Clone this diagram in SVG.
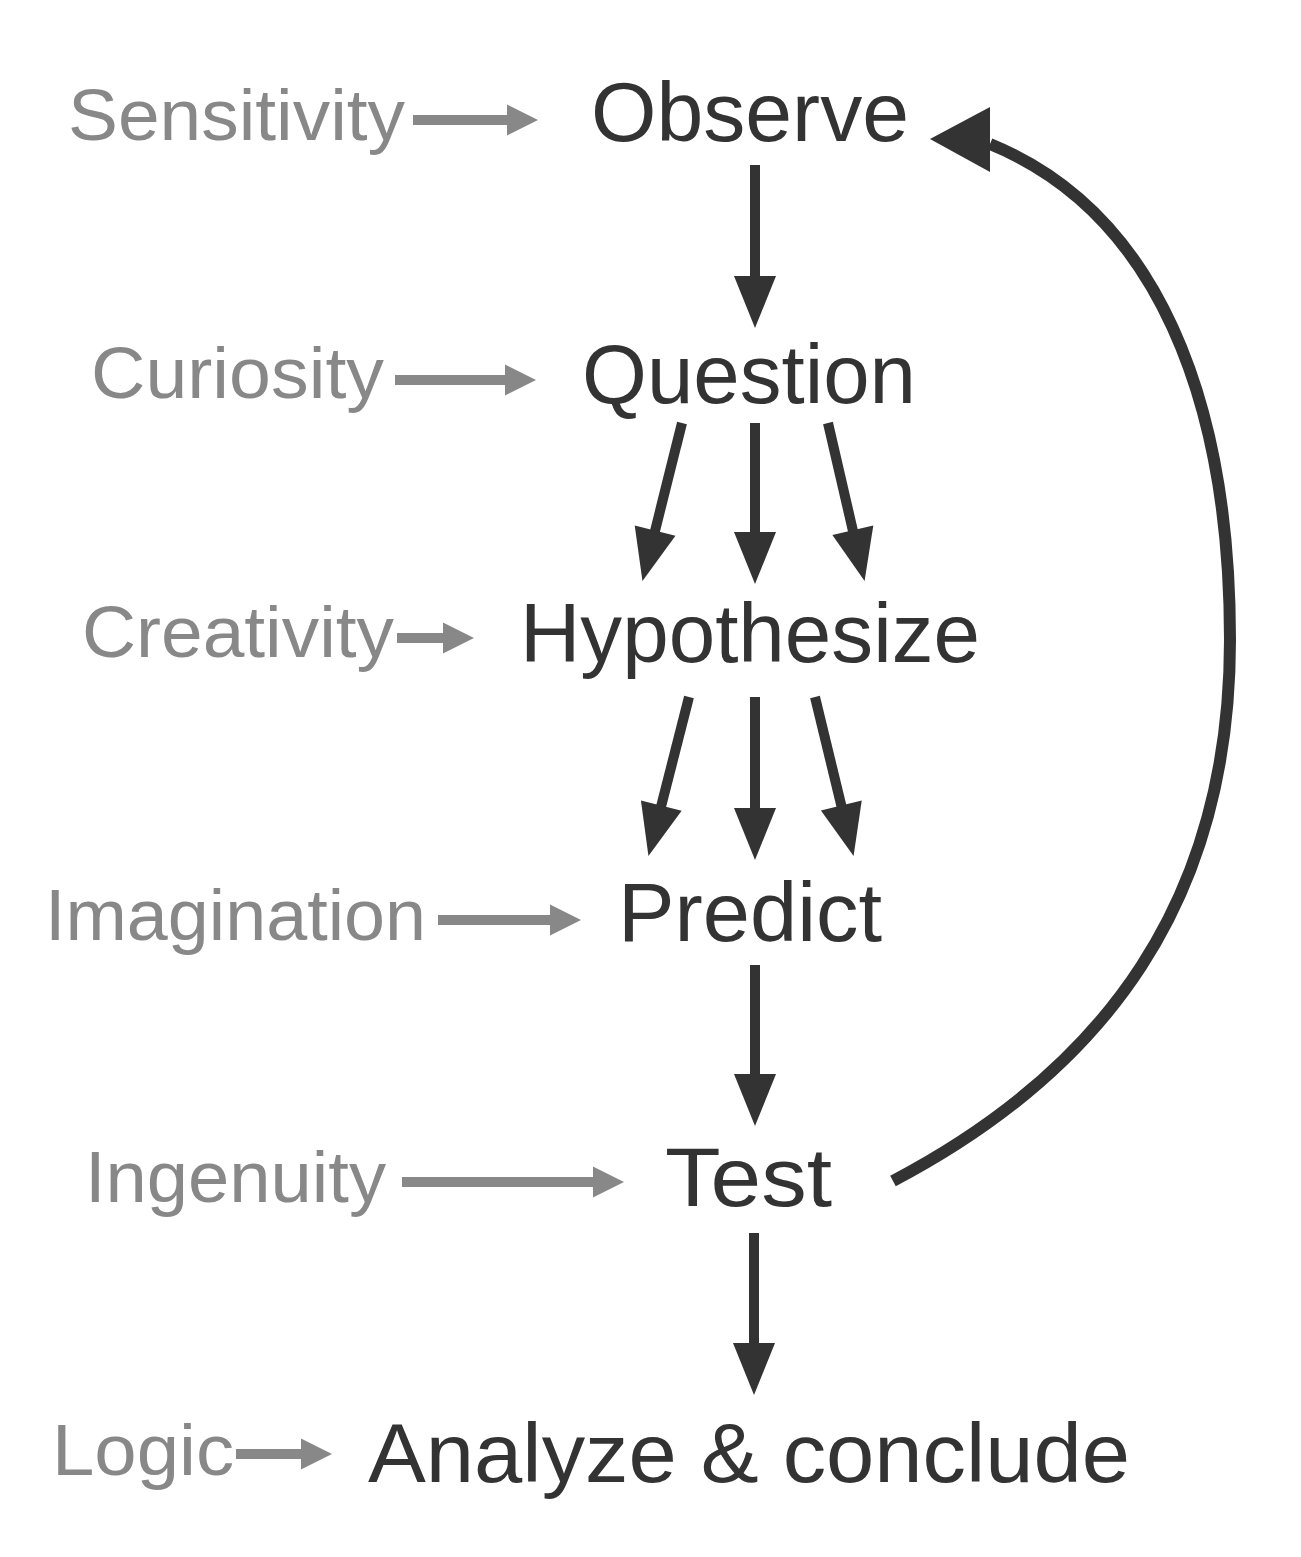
<svg xmlns="http://www.w3.org/2000/svg" width="1301" height="1557" viewBox="0 0 1301 1557">
<style>
.main{font-family:"Liberation Sans",Arial,Helvetica,sans-serif;font-size:84px;fill:#333333}
.side{font-family:"Liberation Sans",Arial,Helvetica,sans-serif;font-size:72px;fill:#888888}
.dk{stroke:#333333;stroke-width:10;fill:none}
.gr{stroke:#888888;stroke-width:10;fill:none}
</style>
<defs>
<marker id="hd" markerUnits="userSpaceOnUse" viewBox="0 -21 52 42" refX="2" refY="0" markerWidth="52" markerHeight="42" orient="auto" overflow="visible">
<path d="M0,-21 L52,0 L0,21 Z" fill="#333333"/>
</marker>
<marker id="hg" markerUnits="userSpaceOnUse" viewBox="0 -15.5 31 31" refX="2" refY="0" markerWidth="31" markerHeight="31" orient="auto" overflow="visible">
<path d="M0,-15.5 L31,0 L0,15.5 Z" fill="#888888"/>
</marker>
</defs>
<rect width="1301" height="1557" fill="#ffffff"/>

<g id="observe"><text class="main" x="591" y="141" textLength="318" lengthAdjust="spacingAndGlyphs">Observe</text></g>
<g id="question"><text class="main" x="582" y="403" textLength="334" lengthAdjust="spacingAndGlyphs">Question</text></g>
<g id="hypothesize"><text class="main" x="520" y="662" textLength="460" lengthAdjust="spacingAndGlyphs">Hypothesize</text></g>
<g id="predict"><text class="main" x="618" y="941" textLength="264" lengthAdjust="spacingAndGlyphs">Predict</text></g>
<g id="test"><text class="main" x="665" y="1206" textLength="167" lengthAdjust="spacingAndGlyphs">Test</text></g>
<g id="analyze"><text class="main" x="368" y="1482" textLength="762" lengthAdjust="spacingAndGlyphs">Analyze &amp; conclude</text></g>

<g id="sensitivity"><text class="side" x="68" y="140" textLength="337" lengthAdjust="spacingAndGlyphs">Sensitivity</text></g>
<g id="curiosity"><text class="side" x="91" y="398" textLength="293" lengthAdjust="spacingAndGlyphs">Curiosity</text></g>
<g id="creativity"><text class="side" x="82" y="657" textLength="312" lengthAdjust="spacingAndGlyphs">Creativity</text></g>
<g id="imagination"><text class="side" x="45" y="940" textLength="381" lengthAdjust="spacingAndGlyphs">Imagination</text></g>
<g id="ingenuity"><text class="side" x="85" y="1202" textLength="301" lengthAdjust="spacingAndGlyphs">Ingenuity</text></g>
<g id="logic"><text class="side" x="52" y="1475" textLength="182" lengthAdjust="spacingAndGlyphs">Logic</text></g>

<g id="connectors">
<line class="gr" x1="413" y1="120" x2="509" y2="120" marker-end="url(#hg)"/>
<line class="gr" x1="395" y1="380" x2="507" y2="380" marker-end="url(#hg)"/>
<line class="gr" x1="397" y1="638" x2="445" y2="638" marker-end="url(#hg)"/>
<line class="gr" x1="438" y1="920" x2="552" y2="920" marker-end="url(#hg)"/>
<line class="gr" x1="402" y1="1182" x2="595" y2="1182" marker-end="url(#hg)"/>
<line class="gr" x1="236" y1="1454" x2="303" y2="1454" marker-end="url(#hg)"/>

<line class="dk" x1="755" y1="165" x2="755" y2="278" marker-end="url(#hd)"/>
<line class="dk" x1="682" y1="423" x2="654.6" y2="532.6" marker-end="url(#hd)"/>
<line class="dk" x1="755" y1="423" x2="755" y2="534" marker-end="url(#hd)"/>
<line class="dk" x1="828" y1="423" x2="853.3" y2="532.3" marker-end="url(#hd)"/>
<line class="dk" x1="689" y1="697" x2="660.8" y2="807.6" marker-end="url(#hd)"/>
<line class="dk" x1="755" y1="697" x2="755" y2="810" marker-end="url(#hd)"/>
<line class="dk" x1="815" y1="697" x2="841.8" y2="807.5" marker-end="url(#hd)"/>
<line class="dk" x1="755" y1="965" x2="755" y2="1076" marker-end="url(#hd)"/>
<line class="dk" x1="754" y1="1233" x2="754" y2="1345" marker-end="url(#hd)"/>

<path d="M893,1181 C1106,1069 1230,900 1230,640 C1230,400 1157,212 990,144" stroke="#333333" stroke-width="12" fill="none"/>
<polygon points="930,139 990,107 990,172" fill="#333333"/>
</g>
</svg>
